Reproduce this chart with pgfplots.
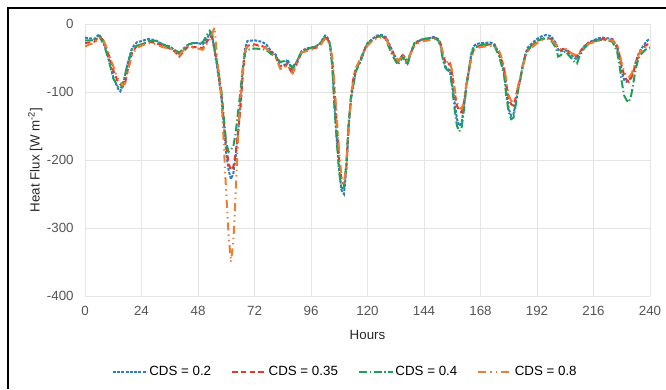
\documentclass[border=0pt]{standalone}
\usepackage{pgfplots}
\pgfplotsset{compat=1.18}
\usepackage{fontspec}
\setmainfont{Liberation Sans}
\definecolor{cblue}{RGB}{46,125,195}
\definecolor{cred}{RGB}{226,58,44}
\definecolor{cgreen}{RGB}{30,160,90}
\definecolor{corange}{RGB}{237,125,49}
\definecolor{tickgray}{RGB}{85,85,85}
\begin{document}
\begin{tikzpicture}
\useasboundingbox (0,0) rectangle (499.5pt,291.75pt);
\draw[line width=1.3pt,black] (6pt,0) -- (6pt,285.75pt) -- (499.5pt,285.75pt);
\begin{axis}[
  at={(63.75pt,69.75pt)}, anchor=south west,
  width=423.75pt, height=204pt, scale only axis,
  xmin=0, xmax=240, ymin=-400, ymax=0,
  xtick={0,24,...,240}, ytick={-400,-300,...,0},
  grid=major, grid style={draw=black!10, line width=0.6pt},
  axis line style={draw=none},
  major tick length=0pt,
  tick label style={font=\fontsize{10}{12}\selectfont, text=tickgray},
  /pgf/number format/assume math mode=true,
  yticklabel style={xshift=-5pt},
  xticklabel style={yshift=-4pt},
  xlabel={Hours}, ylabel={Heat Flux [W m\textsuperscript{-2}]},
  label style={font=\fontsize{10}{12}\selectfont, text=black!85},
  xlabel style={at={(axis description cs:0.5,-0.143)}, anchor=center},
  ylabel style={at={(axis description cs:-0.088,0.5)}, anchor=center},
  legend columns=4,
  legend style={draw=none, at={(0.46,-0.28)}, anchor=center, font=\fontsize{10}{12}\selectfont,
    inner xsep=0pt,
    nodes={inner xsep=1pt},
    /tikz/every odd column/.append style={column sep=0pt},
    /tikz/every even column/.append style={column sep=14pt}},
  legend image code/.code={\draw[#1] (0cm,0cm) -- (0.9cm,0cm);},
  every axis plot/.append style={line width=1.5pt},
]
\addplot[cblue, dash pattern=on 2.2pt off 1pt] table {
0 -20
2 -21
4 -22
6 -15
8 -28
10 -50
12 -78
14 -95
15 -99
16 -92
18 -60
20 -35
22 -27
24 -25
27 -22
30 -24
33 -30
36 -33
38 -38
40 -44
42 -36
44 -30
46 -28
48 -28
50 -30
52 -20
53 -14
54 -18
56 -60
58 -110
59 -150
60 -190
61 -215
62 -228
63 -220
64 -195
65 -160
66 -120
67 -70
68 -35
69 -25
72 -24
75 -26
77 -30
79 -40
81 -45
83 -62
85 -60
86 -52
88 -68
90 -55
92 -40
94 -36
96 -35
98 -33
100 -28
101 -22
102 -17
103 -20
104 -28
105 -60
106 -120
107 -170
108 -215
109 -245
110 -250
111 -215
112 -150
113 -110
114 -90
115 -70
116 -62
117 -55
118 -45
119 -35
120 -28
122 -22
124 -17
126 -16
128 -20
130 -35
132 -50
133 -55
134 -50
135 -45
136 -50
137 -56
138 -45
140 -28
142 -24
144 -22
146 -21
148 -19
150 -22
151 -30
152 -50
153 -62
154 -66
155 -68
156 -90
157 -115
158 -140
159 -150
160 -145
161 -120
162 -90
163 -70
164 -45
165 -33
166 -30
168 -28
170 -28
172 -27
174 -30
176 -45
178 -70
179 -100
180 -125
181 -135
182 -133
183 -115
184 -95
185 -80
186 -60
187 -45
188 -35
190 -28
192 -22
194 -18
196 -16
198 -18
200 -28
201 -38
202 -40
204 -38
206 -44
208 -50
209 -52
210 -44
212 -33
214 -27
216 -24
218 -21
220 -20
222 -21
224 -22
226 -35
227 -50
228 -70
229 -82
230 -85
231 -83
232 -78
233 -70
234 -55
235 -45
236 -38
238 -28
239 -24
240 -22
};
\addlegendentry{CDS = 0.2}
\addplot[cred, dash pattern=on 4pt off 2.5pt] table {
0 -28
2 -27
4 -26
6 -18
8 -25
10 -45
12 -68
14 -85
16 -92
17 -88
18 -70
20 -42
22 -32
24 -30
27 -26
30 -28
33 -32
36 -36
38 -40
40 -48
42 -40
44 -32
46 -34
48 -34
50 -36
52 -25
53 -18
54 -20
56 -55
58 -105
59 -145
60 -180
61 -205
62 -215
63 -210
64 -190
65 -160
66 -125
67 -75
68 -40
69 -32
72 -30
75 -32
77 -35
79 -42
81 -48
83 -65
85 -62
86 -58
88 -74
90 -58
92 -42
94 -38
96 -36
98 -35
100 -30
101 -24
102 -20
103 -22
104 -30
105 -50
106 -100
107 -150
108 -200
109 -230
110 -236
111 -210
112 -150
113 -105
114 -80
115 -66
116 -60
117 -52
118 -44
119 -36
120 -30
122 -24
124 -19
126 -18
128 -22
130 -38
132 -50
133 -56
134 -50
135 -46
136 -52
137 -58
138 -46
140 -30
142 -25
144 -23
146 -22
148 -20
150 -22
151 -28
152 -45
153 -55
154 -60
155 -58
156 -75
157 -100
158 -120
159 -128
160 -130
161 -115
162 -88
163 -70
164 -50
165 -38
166 -34
168 -32
170 -31
172 -30
174 -32
176 -42
178 -65
179 -90
180 -110
181 -118
182 -120
183 -108
184 -92
185 -78
186 -60
187 -47
188 -38
190 -32
192 -26
194 -22
196 -20
198 -22
200 -30
201 -36
202 -38
204 -36
206 -42
208 -46
209 -48
210 -42
212 -33
214 -28
216 -25
218 -23
220 -22
222 -23
224 -23
226 -32
227 -45
228 -62
229 -75
230 -82
231 -85
232 -80
233 -70
234 -58
235 -48
236 -40
238 -32
239 -30
240 -30
};
\addlegendentry{CDS = 0.35}
\addplot[cgreen, dash pattern=on 6pt off 2pt on 1pt off 2pt] table {
0 -24
2 -24
4 -24
6 -18
8 -30
10 -52
12 -80
14 -92
15 -95
16 -90
18 -60
20 -38
22 -32
24 -30
27 -25
30 -25
33 -30
36 -35
38 -38
40 -42
42 -36
44 -30
46 -28
48 -28
50 -27
52 -15
53 -10
54 -14
56 -55
58 -100
59 -140
60 -175
61 -188
62 -185
63 -180
64 -160
65 -130
66 -100
67 -65
68 -42
69 -38
72 -36
75 -37
77 -38
79 -44
81 -48
83 -56
85 -54
86 -55
88 -64
90 -55
92 -40
94 -36
96 -35
98 -33
100 -28
101 -24
102 -19
103 -21
104 -30
105 -60
106 -125
107 -175
108 -220
109 -242
110 -240
111 -205
112 -145
113 -108
114 -88
115 -70
116 -62
117 -55
118 -45
119 -36
120 -30
122 -22
124 -18
126 -17
128 -24
130 -42
132 -55
133 -60
134 -54
135 -48
136 -55
137 -60
138 -47
140 -28
142 -24
144 -22
146 -21
148 -20
150 -24
151 -32
152 -52
153 -64
154 -68
155 -70
156 -95
157 -125
158 -150
159 -158
160 -152
161 -125
162 -92
163 -70
164 -46
165 -36
166 -33
168 -31
170 -30
172 -29
174 -33
176 -48
178 -75
179 -108
180 -130
181 -140
182 -138
183 -118
184 -96
185 -80
186 -60
187 -48
188 -40
190 -30
192 -25
194 -22
196 -21
198 -24
200 -35
201 -48
202 -46
204 -40
206 -48
208 -56
209 -58
210 -48
212 -36
214 -29
216 -26
218 -24
220 -23
222 -24
224 -26
226 -40
227 -60
228 -85
229 -105
230 -112
231 -115
232 -105
233 -85
234 -65
235 -52
236 -45
238 -38
239 -36
240 -35
};
\addlegendentry{CDS = 0.4}
\addplot[corange, dash pattern=on 6pt off 3pt on 1pt off 3pt on 1pt off 3pt] table {
0 -33
2 -30
4 -28
6 -20
8 -25
10 -42
12 -62
14 -80
16 -90
17 -88
18 -72
20 -45
22 -35
24 -32
27 -28
30 -30
33 -34
36 -36
38 -40
40 -46
42 -38
44 -32
46 -35
48 -36
50 -38
52 -28
53 -22
54 -15
55 -5
56 -45
58 -110
59 -180
60 -250
61 -310
62 -350
63 -320
64 -250
65 -170
66 -110
67 -70
68 -40
69 -33
72 -32
75 -33
77 -36
79 -42
81 -48
83 -66
85 -64
86 -60
88 -72
90 -58
92 -42
94 -40
96 -38
98 -36
100 -32
101 -26
102 -22
103 -24
104 -32
105 -48
106 -90
107 -140
108 -190
109 -225
110 -235
111 -210
112 -155
113 -110
114 -80
115 -65
116 -58
117 -50
118 -44
119 -37
120 -32
122 -25
124 -21
126 -20
128 -23
130 -38
132 -48
133 -54
134 -50
135 -45
136 -50
137 -55
138 -46
140 -32
142 -27
144 -25
146 -24
148 -22
150 -23
151 -28
152 -42
153 -52
154 -56
155 -55
156 -70
157 -95
158 -115
159 -123
160 -125
161 -112
162 -88
163 -70
164 -52
165 -40
166 -36
168 -34
170 -33
172 -32
174 -33
176 -40
178 -60
179 -85
180 -105
181 -113
182 -115
183 -105
184 -90
185 -78
186 -62
187 -50
188 -40
190 -34
192 -28
194 -24
196 -22
198 -23
200 -30
201 -35
202 -37
204 -36
206 -42
208 -45
209 -46
210 -42
212 -34
214 -29
216 -27
218 -25
220 -24
222 -24
224 -24
226 -30
227 -42
228 -58
229 -70
230 -76
231 -78
232 -74
233 -66
234 -55
235 -46
236 -40
238 -34
239 -32
240 -32
};
\addlegendentry{CDS = 0.8}
\end{axis}
\end{tikzpicture}
\end{document}
